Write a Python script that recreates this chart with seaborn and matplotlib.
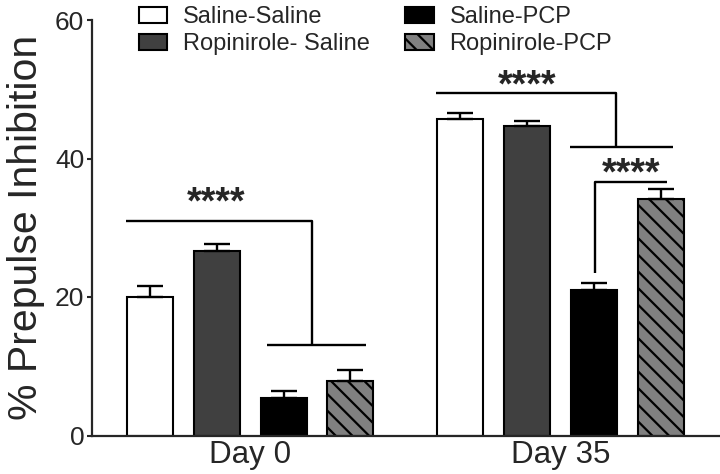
import numpy as np
import pandas as pd
import matplotlib
matplotlib.use("Agg")
import matplotlib.pyplot as plt
from matplotlib.patches import Patch
import seaborn as sns

days = ["Day 0", "Day 35"]
groups = ["Saline-Saline", "Ropinirole- Saline", "Saline-PCP", "Ropinirole-PCP"]
means = {
    "Saline-Saline": [20.0, 45.7],
    "Ropinirole- Saline": [26.6, 44.65],
    "Saline-PCP": [5.4, 21.0],
    "Ropinirole-PCP": [7.9, 34.1],
}
sems = {
    "Saline-Saline": [1.6, 0.8],
    "Ropinirole- Saline": [1.05, 0.75],
    "Saline-PCP": [1.0, 1.0],
    "Ropinirole-PCP": [1.55, 1.5],
}
colors = ["#ffffff", "#404040", "#000000", "#808080"]

# significance brackets (x in category units, y in % PPI)
brackets = [
    ([-0.402, 0.199, 0.199], [31.0, 31.0, 13.0]),
    ([0.053, 0.372], [13.0, 13.0]),
    ([0.600, 1.178, 1.178], [49.4, 49.4, 41.7]),
    ([1.031, 1.364], [41.7, 41.7]),
    ([1.112, 1.112, 1.342], [23.4, 36.65, 36.65]),
]
stars = [(-0.110, 32.1), (0.893, 49.0), (1.227, 36.3)]

rows = []
for g in groups:
    for d, m in zip(days, means[g]):
        rows.append({"day": d, "group": g, "value": m})
df = pd.DataFrame(rows)

sns.set_style("ticks")
plt.rcParams["font.family"] = ["Liberation Sans", "DejaVu Sans"]
plt.rcParams["hatch.linewidth"] = 1.6
plt.rcParams["hatch.color"] = "black"

fig = plt.figure(figsize=(7.2, 4.74), dpi=100)
ax = fig.add_axes([92 / 720, 1 - 435.5 / 474, 1 - 92 / 720, 415.5 / 474])

sns.barplot(data=df, x="day", y="value", hue="group", hue_order=groups,
            palette=colors, width=0.86, gap=0.31, edgecolor="black",
            linewidth=1.5, errorbar=None, legend=False, ax=ax)

# hatch on last group + upper-only error bars
for i, (g, cont) in enumerate(zip(groups, ax.containers)):
    xs, ys = [], []
    for bar in cont:
        bar.set_edgecolor("black")
        if g == "Ropinirole-PCP":
            bar.set_hatch("\\\\")
        xs.append(bar.get_x() + bar.get_width() / 2)
        ys.append(bar.get_height())
    err = np.array(sems[g])
    ax.errorbar(xs, ys, yerr=[np.zeros_like(err), err], fmt="none",
                ecolor="black", elinewidth=1.7, capsize=9.4, capthick=1.7,
                zorder=1)

for bx, by in brackets:
    ax.plot(bx, by, color="black", lw=1.7, solid_capstyle="butt")
for sx, sy in stars:
    ax.text(sx, sy, "****", ha="center", va="baseline", fontsize=27,
            fontweight="bold")

ax.set_xlim(-0.51, 1.514)
ax.set_ylim(0, 60)
ax.set_yticks([0, 20, 40, 60])
ax.tick_params(axis="y", labelsize=19, length=3.6, width=1.5, pad=2)
ax.tick_params(axis="x", labelsize=22.6, length=0, pad=3)
ax.set_xlabel("")
ax.set_ylabel("% Prepulse Inhibition", fontsize=29.5, labelpad=7)
for side in ["top", "right"]:
    ax.spines[side].set_visible(False)
for side in ["left", "bottom"]:
    ax.spines[side].set_linewidth(1.6)

handles = [Patch(facecolor=c, edgecolor="black", linewidth=1.5,
                 hatch="\\\\" if g == "Ropinirole-PCP" else None, label=g)
           for g, c in zip(groups, colors)]
fig.legend(handles=handles, loc="upper left", bbox_to_anchor=(139 / 720, 1 - 6 / 474),
           ncol=2, frameon=False, fontsize=17, borderpad=0, borderaxespad=0,
           handlelength=1.2, handleheight=0.67, handletextpad=0.67,
           columnspacing=1.5, labelspacing=0.23)

fig.savefig("out.png", dpi=100)
